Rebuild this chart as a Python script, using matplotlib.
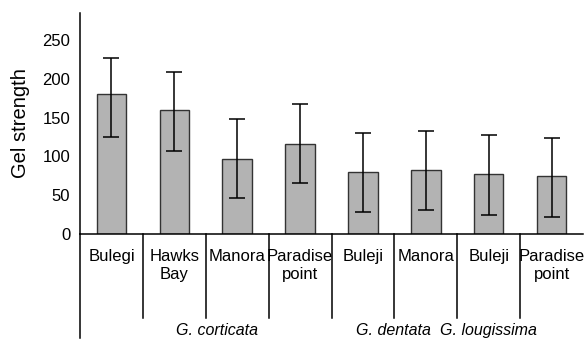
import matplotlib.pyplot as plt

# Gel strength per site
sites = ['Bulegi', 'Hawks\nBay', 'Manora', 'Paradise\npoint',
         'Buleji', 'Manora', 'Buleji', 'Paradise\npoint']
gel_strength = [180, 160, 97, 116, 80, 82, 77, 75]
err_low = [55, 53, 51, 50, 51, 51, 52, 53]
err_high = [47, 49, 51, 52, 50, 51, 50, 49]

species = ['G. corticata', 'G. dentata', 'G. lougissima']
species_pos = [1.68, 4.49, 6.0]

plt.rcParams['font.family'] = ['Liberation Sans', 'DejaVu Sans']

fig = plt.figure(figsize=(5.85, 3.41), dpi=100)
ax = fig.add_axes([0.1368, 0.3138, 0.8598, 0.6482])

x = list(range(len(sites)))
ax.bar(x, gel_strength, width=0.47, color='#b3b3b3', edgecolor='#333333',
       linewidth=1.0, zorder=2)
ax.errorbar(x, gel_strength, yerr=[err_low, err_high], fmt='none',
            ecolor='black', elinewidth=1.1, capsize=6, capthick=1.1, zorder=3)

ax.set_xlim(-0.5, 7.5)
ax.set_ylim(0, 285)
ax.set_yticks([0, 50, 100, 150, 200, 250])
ax.tick_params(axis='y', length=0, labelsize=12, pad=7)
ax.set_xticks([])

for s in ['top', 'right']:
    ax.spines[s].set_visible(False)
ax.spines['left'].set_bounds(0, 285)
ax.spines['bottom'].set_linewidth(1.1)
ax.spines['left'].set_linewidth(1.1)

ax.set_ylabel('Gel strength', fontsize=14.5, labelpad=9)

trans = ax.get_xaxis_transform()
# left axis line continues below the chart
ax.plot([-0.5, -0.5], [0, -0.47], transform=trans, color='black',
        linewidth=1.1, clip_on=False)
for xs in [0.5, 1.5, 2.5, 3.5, 4.5, 5.5, 6.5]:
    ax.plot([xs, xs], [0, -0.38], transform=trans, color='black',
            linewidth=1.1, clip_on=False)

for i, name in enumerate(sites):
    ax.text(i, -0.068, name, transform=trans, ha='center', va='top',
            fontsize=12, linespacing=1.25)

for name, pos in zip(species, species_pos):
    ax.text(pos, -0.435, name, transform=trans, ha='center', va='center',
            fontsize=11.5, style='italic')

fig.savefig('out.png', dpi=100)
